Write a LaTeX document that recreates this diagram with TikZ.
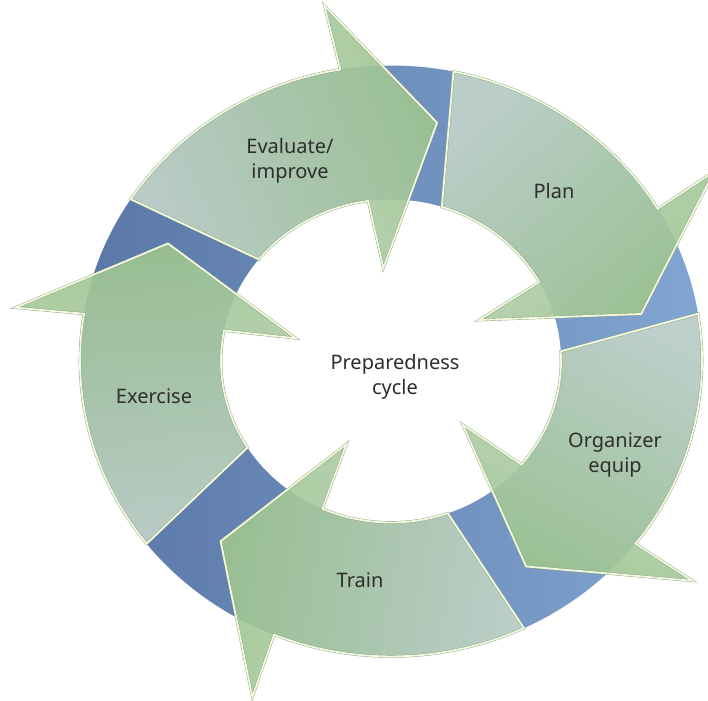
\documentclass[tikz,border=0pt]{standalone}
\usepackage{fontspec}
\setmainfont{Noto Sans}

\definecolor{ringdark}{HTML}{5A77A7}
\definecolor{ringlight}{HTML}{82A5D1}
\definecolor{tailgreen}{HTML}{C3D4CA}
\definecolor{headgreen}{HTML}{9EC58E}
\definecolor{edgegreen}{HTML}{88A67C}
\definecolor{edgewhite}{HTML}{F4F8E2}
\definecolor{labelgray}{HTML}{2E2E2E}

\begin{document}
\begin{tikzpicture}[x = 1pt, y = 1pt,
	cycletext/.style = {font = \fontsize{20}{25.5}\selectfont, text = labelgray, align = center, inner sep = 0pt},
	arrowfill/.style = {top color = headgreen, bottom color = tailgreen, fill opacity = 0.9,
		draw = edgegreen, double = edgewhite, double distance = 1.8 pt, line width = 0.4 pt, line join = miter}]

	% Definition

	\def\Rout{311}		% Outer radius of ring
	\def\Rin{170}		% Inner radius of ring

	\useasboundingbox (0, 0) rectangle (708, -700);

	\begin{scope}[shift = {(391, -361)}, yscale = 0.95]

		% Blue ring

		\shade [left color = ringdark, right color = ringlight] (0, 0) circle (\Rout);
		\fill [white] (0, 0) circle (\Rin);

		% Green arrows, tail angle of each

		\foreach \T in {218.2, 146.8, 78.4, 9.2, -64.7}
		{
			\pgfmathsetmacro\S{\T - 215}
			\shadedraw [arrowfill, shading angle = \S]
				({\T} : \Rout) arc [start angle = \T, end angle = \T - 47.4, radius = \Rout]
				-- ({\T - 46.7} : 380) -- ({\T - 67.2} : 255) -- ({\T - 52.3} : 98)
				-- ({\T - 49.1} : \Rin) arc [start angle = \T - 49.1, end angle = \T - 5.8, radius = \Rin]
				-- cycle;
		}

	\end{scope}

	% Labels

	\node [cycletext] (center) at (395, -377) {Preparedness\\cycle};
	\node [cycletext] (evaluate) at (290, -161) {Evaluate/\\improve};
	\node [cycletext] (plan) at (554, -191) {Plan};
	\node [cycletext] (organize) at (615, -455) {Organizer\\equip};
	\node [cycletext] (train) at (360, -580) {Train};
	\node [cycletext] (exercise) at (154, -396) {Exercise};

\end{tikzpicture}
\end{document}
